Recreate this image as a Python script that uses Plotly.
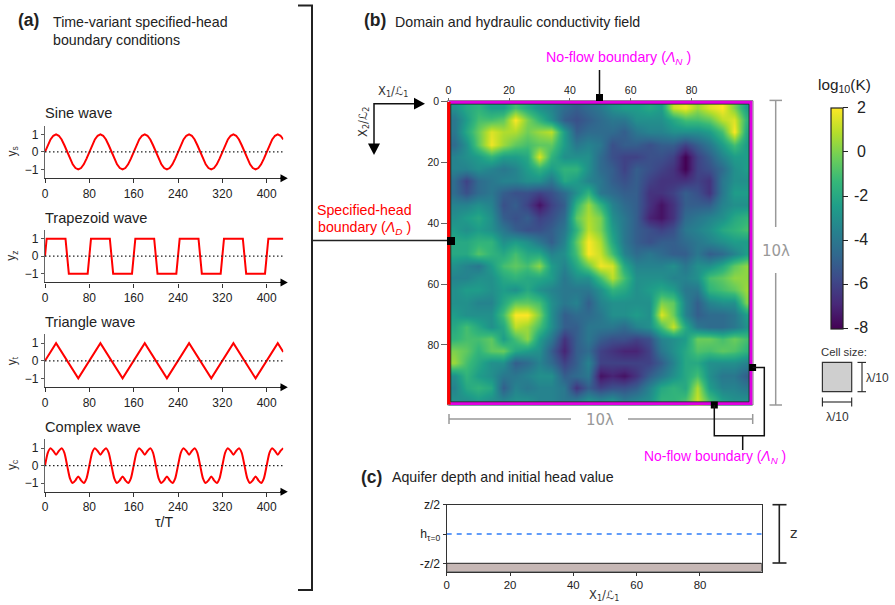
import plotly.graph_objects as go

# ---------- data ----------
sine_x = [0,5,10,15,20,25,30,35,40,45,50,55,60,65,70,75,80,85,90,95,100,105,110,115,120,125,130,135,140,145,150,155,160,165,170,175,180,185,190,195,200,205,210,215,220,225,230,235,240,245,250,255,260,265,270,275,280,285,290,295,300,305,310,315,320,325,330,335,340,345,350,355,360,365,370,375,380,385,390,395,400,405,410,415,420,425,430]
sine_y = [0,.38,.71,.92,1,.92,.71,.38,0,-.38,-.71,-.92,-1,-.92,-.71,-.38,
          0,.38,.71,.92,1,.92,.71,.38,0,-.38,-.71,-.92,-1,-.92,-.71,-.38,
          0,.38,.71,.92,1,.92,.71,.38,0,-.38,-.71,-.92,-1,-.92,-.71,-.38,
          0,.38,.71,.92,1,.92,.71,.38,0,-.38,-.71,-.92,-1,-.92,-.71,-.38,
          0,.38,.71,.92,1,.92,.71,.38,0,-.38,-.71,-.92,-1,-.92,-.71,-.38,
          0,.38,.71,.92,1,.92,.71]
trap_x = [0,3,37,43,77,83,117,123,157,163,197,203,237,243,277,283,317,323,357,363,397,403,430]
trap_y = [0,1,1,-1,-1,1,1,-1,-1,1,1,-1,-1,1,1,-1,-1,1,1,-1,-1,1,1]
tri_x = [0,20,60,100,140,180,220,260,300,340,380,420,430]
tri_y = [0,1,-1,1,-1,1,-1,1,-1,1,-1,1,.5]
comp_x = sine_x
comp_y = [0,.73,1,.84,.62,.84,1,.73,0,-.73,-1,-.84,-.62,-.84,-1,-.73,
          0,.73,1,.84,.62,.84,1,.73,0,-.73,-1,-.84,-.62,-.84,-1,-.73,
          0,.73,1,.84,.62,.84,1,.73,0,-.73,-1,-.84,-.62,-.84,-1,-.73,
          0,.73,1,.84,.62,.84,1,.73,0,-.73,-1,-.84,-.62,-.84,-1,-.73,
          0,.73,1,.84,.62,.84,1,.73,0,-.73,-1,-.84,-.62,-.84,-1,-.73,
          0,.73,1,.84,.62,.84,1]
wave_titles = ["Sine wave", "Trapezoid wave", "Triangle wave", "Complex wave"]
wave_ylabels = ["y<sub>s</sub>", "y<sub>z</sub>", "y<sub>t</sub>", "y<sub>c</sub>"]
time_ticks = [0, 80, 160, 240, 320, 400]
field_ticks = [0, 20, 40, 60, 80]
cbar_ticks = [-8, -6, -4, -2, 0, 2]
cbar_labels = ["-8", "-6", "-4", "-2", "0", "2"]
depth_ticks = [1, 0, -1]
depth_labels = ["z/2", "h<sub>τ=0</sub>", "-z/2"]
head_y = [0, 0]
span_x = [0, 99.5]
cell_centres = [2,6,10,14,18,22,26,30,34,38,42,46,50,54,58,62,66,70,74,78,82,86,90,94,98]
log_k = [
[-3,-2,-1.5,-2.5,-2.5,-1,-2,-3,-3.5,-4.5,-5,-4.5,-4,-3,-2.5,-2.5,-2,-2.5,1.2,1.8,.5,1.5,2,0,-2.5],
[-4,-2.5,-1,-1,-.5,2,0,-1.5,-3,-5,-5.5,-5,-4.5,-4,-4,-3,-3,-3,-2,-1,-1,-.5,1,1.5,-1.5],
[-4,-2,-.3,1.5,.8,.8,-.2,.5,1,-2.5,-5,-4.5,-4.5,-4.5,-5,-4,-3.5,-3.5,-3,-3,-3,-2.5,-1,2,-2],
[-4.5,-3,-.5,1.8,.5,-.5,-1,-.5,-.5,-2.5,-4,-3.5,-4,-5.5,-5,-5,-5.5,-5,-5,-6,-5,-4,-2.5,-1,-2.5],
[-3.5,-3,-2.5,-1.5,-2.5,-2.5,-2,1.5,-1.5,-3,-3,-3,-4.5,-5.5,-6,-6,-5.5,-5.5,-6,-8,-6,-5,-3.5,-2.5,-2.5],
[-3.5,-3.5,-3,-3.5,-4,-3.5,-2.5,-1.5,-2.5,-1.5,-1.5,-3,-4.5,-5,-6,-5,-5.5,-6,-6.5,-8,-6,-5.5,-4.5,-3,-2.5],
[-4.5,-6,-4.5,-4,-3.5,-3.5,-3,-3,-4,-2,-2.5,-3.5,-4,-5,-5.5,-5,-6,-6.5,-6.5,-6.5,-6,-6.5,-4,-3,-3],
[-4.5,-5.5,-4.5,-4,-5,-5.5,-5.5,-6,-5.5,-4.5,-3,-1.5,-4,-4.5,-5,-5,-6.5,-6.5,-6,-5,-5.5,-6.5,-4,-2.5,-2.5],
[-3.5,-3.5,-3,-3.5,-5.5,-5,-6,-7.5,-6,-5,-1.5,.5,-1.5,-3.5,-4.5,-5,-6.5,-7.5,-6.5,-5,-5,-5,-3.5,-3,-3],
[-3,-2.5,-2,-3,-5,-5.5,-5,-6,-5.5,-4.5,-.5,.8,0,-3,-4,-5,-7,-7.5,-6.5,-4.5,-4,-3.5,-3,-2,-1.5],
[-2.5,-3,-2.5,-3,-4,-5,-5.5,-5.5,-5,-4,-1.5,1,0,-2.5,-4,-5,-5.5,-6,-5.5,-4,-3.5,-3,-2,-1.5,-1],
[-2,-2,-1.5,-1.5,-3,-2.5,-3,-4,-5,-3.5,-.5,2,.8,-2,-4,-5,-5.5,-5,-5,-4.5,-4,-3.5,-3,-2.5,-2.5],
[-2,-2,-.7,-1.5,-2,-1,-2,-2,-3.5,-3,-1,2,1.2,-1,-3.5,-4.5,-4,-4.5,-5,-5,-4,-5,-4.5,-3.5,-2.5],
[-3,-3.5,-4,-2.5,-1,-.5,-1,.3,-2.5,-3.5,-2,-.3,1.8,1.4,-2,-3.5,-3.5,-3.5,-3,-4,-3,-3,-2,-.5,.3],
[-3.5,-3.5,-3,-3,-2,-1.5,-2,-2,-2.5,-4,-3,-3,-1,1,-1,-3,-3,-3,-3.5,-3.5,-3,-1,-.5,.3,.3],
[-3,-2.5,-2.5,-3,-2.5,-3,-2,-3,-3.5,-4,-4,-4,-3,-1.5,-2,-3,-2.5,-2,-2.5,-4,-4,-1.5,-1,-.5,.5],
[-3,-3,-3.5,-3.5,-2,-.5,-.5,-1,-3,-4,-3.5,-5,-3.5,-3,-3,-3,-3,0,-.5,-3.5,-5,-3.5,-3,-3,0],
[-2.5,-3,-3,-3,-1,2,2,0,-3,-5,-4.5,-4.5,-4,-3,-3,-2.5,-3,1.5,-.3,-3.5,-5,-4.5,-4.5,-4,-2.5],
[-2,-1,-2,-3,-2,1,.5,-1,-3,-5,-5,-4,-4,-4,-4.5,-3.5,-3,-1,1.2,-2,-4,-4.5,-4.5,-4,-3],
[-1.5,-1,-1,-.5,-2.5,-1,.3,-2.5,-4,-6.5,-5,-4,-5,-5.5,-5.5,-6,-5.5,-3.5,-3,-2.5,-.3,-.3,-1,-.3,-1],
[0,-.5,-1.5,-.5,-.3,-2,-2.5,-3,-5,-7,-5,-4.5,-6,-6.5,-7,-7,-6,-4,-3,-2,-.8,-1,-.5,-.8,-1.5],
[.5,-1,-2,-3,-3,-5,-4.5,-3.5,-4.5,-6,-5,-3.5,-6,-6,-6,-6,-6,-5,-3.5,-2,-2,-3,-3,-3,-3.5],
[-3,-1.5,-2.5,-3,-4,-4,-3.5,-3,-3,-5,-4.5,-4,-7.5,-7,-7.5,-6.5,-5,-4,-3,-2,-1,-3,-4,-4,-5],
[-3.5,-2,-1.5,-2,-5,-3.5,-4,-3.5,-3.5,-4,-6.5,-5,-6,-5.5,-5.5,-5,-3.5,-2,-1.5,-2,.8,-2.5,-3.5,-3.5,-4],
[-3,-3,-2.5,-3,-3.5,-3,-3,-3.5,-3.5,-4,-4,-3,-3.5,-3,-4,-3.5,-3,-1.5,-1.5,-1,1.2,-1,-2.5,-3,-3],
]

# ---------- page helpers ----------
W, H = 895, 605
FONT = "Liberation Sans"
def px(x): return x / W
def py(y): return 1 - y / H

fig = go.Figure()
shapes, notes = [], []

def text(x, y, s, size=14.2, color="#222", anchor="left", angle=0, bold=False, family=FONT):
    dx = -1 if anchor == "left" else 0
    notes.append(dict(xref="paper", yref="paper", x=px(x + dx), y=py(y), text=f"<b>{s}</b>" if bold else s,
                      showarrow=False, xanchor=anchor, yanchor="middle", textangle=angle, borderpad=0,
                      font=dict(family=family, size=size, color=color)))

def line(pts, color="#222", width=1.5, dash="solid"):
    d = "M" + " L".join(f"{px(a):.5f},{py(b):.5f}" for a, b in pts)
    shapes.append(dict(type="path", xref="paper", yref="paper", path=d,
                       line=dict(color=color, width=width, dash=dash), fillcolor="rgba(0,0,0,0)"))

def poly(pts, fill="#000", color=None, width=0):
    d = "M" + " L".join(f"{px(a):.5f},{py(b):.5f}" for a, b in pts) + " Z"
    shapes.append(dict(type="path", xref="paper", yref="paper", path=d, fillcolor=fill,
                       line=dict(color=color or fill, width=width)))

def square(cx, cy, h):
    poly([(cx-h, cy-h), (cx+h, cy-h), (cx+h, cy+h), (cx-h, cy+h)], "#000")

# ---------- panel (a) ----------
LAY = {}
wave_px = [(125.6, 178.2), (230, 282.4), (334.4, 387.2), (439.4, 491.8)]
title_py = [113, 217.5, 322, 427]
series = [(sine_x, sine_y), (trap_x, trap_y), (tri_x, tri_y), (comp_x, comp_y)]
for i, ((top, bot), (xs, ys)) in enumerate(zip(wave_px, series), start=1):
    ax = "" if i == 1 else str(i)
    LAY["xaxis" + ax] = dict(domain=[px(45), px(283.3)], range=[0, 430], anchor="y" + ax,
                             tickvals=time_ticks, ticks="outside", ticklen=4, tickwidth=1, tickcolor="#333",
                             showgrid=False, zeroline=False, showline=True, linecolor="#333", linewidth=1.2,
                             tickfont=dict(family=FONT, size=12, color="#222"))
    LAY["yaxis" + ax] = dict(domain=[py(bot), py(top)], range=[-1.5, 1.5], anchor="x" + ax,
                             tickvals=[-1, 0, 1], ticktext=["−1", "0", "1"], ticks="outside", ticklen=3,
                             tickwidth=1, tickcolor="#555", showgrid=False, zeroline=False, showline=True,
                             linecolor="#666", linewidth=1.2, tickfont=dict(family=FONT, size=12, color="#222"))
    fig.add_trace(go.Scatter(x=xs, y=ys, mode="lines",
                             line=dict(color="#ff0000", width=2, shape="spline" if i == 4 else "linear", smoothing=0.6),
                             xaxis="x" + ax, yaxis="y" + ax, showlegend=False, hoverinfo="skip"))
    shapes.append(dict(type="line", xref="x" + ax, yref="y" + ax, x0=0, x1=430, y0=0, y1=0,
                       line=dict(color="#222", width=1.2, dash="1.5px,2.5px"), layer="above"))
    poly([(280.5, bot-4), (287.8, bot), (280.5, bot+4)], "#000")
    line([(280, bot), (284, bot)], "#000", 1.2)
    text(45, title_py[i-1], wave_titles[i-1], 14.6, "#222")
    text(12.5, (top+bot)/2, wave_ylabels[i-1], 12, "#333", "center", -90)

text(18, 20, "(a)", 17.5, "#222", bold=True)
text(53, 22, "Time-variant specified-head")
text(53, 39.5, "boundary conditions")
text(164, 522, "τ/T", 14, "#222", "center")

# bracket
line([(298, 5.5), (312, 5.5), (312, 590), (298, 590)], "#222", 2)
line([(312, 240.5), (448, 240.5)], "#222", 1.5)

# ---------- panel (b) ----------
LAY["xaxis5"] = dict(domain=[px(448.3), px(752.3)], range=[0, 100], side="top", anchor="y5",
                     tickvals=field_ticks, ticks="outside", ticklen=3, tickcolor="#666",
                     showgrid=False, zeroline=False, tickfont=dict(family=FONT, size=10.5, color="#222"))
LAY["yaxis5"] = dict(domain=[py(405.7), py(101.7)], range=[100, 0], anchor="x5",
                     tickvals=field_ticks, ticks="outside", ticklen=6, tickcolor="#666",
                     showgrid=False, zeroline=False, tickfont=dict(family=FONT, size=10.5, color="#222"))
fig.add_trace(go.Heatmap(x=cell_centres, y=cell_centres, z=log_k, zmin=-8, zmax=2, colorscale="Viridis",
                         zsmooth="best", xaxis="x5", yaxis="y5", hoverinfo="skip",
                         colorbar=dict(x=px(831), xanchor="left", y=py(107.7), yanchor="top", len=221, lenmode="pixels",
                                       thickness=11.5, thicknessmode="pixels", xpad=0, ypad=0,
                                       tickvals=cbar_ticks, showticklabels=False, ticks="outside", ticklen=5,
                                       tickcolor="#222", outlinecolor="#222", outlinewidth=1.2)))
for v, lab in zip(cbar_ticks, cbar_labels):
    text(861, 107 + (2 - v) * 22.1, lab, 16, "#222", "center")
line([(447.5, 100.7), (753, 100.7), (753, 405), (447.5, 405), (447.5, 100.7)], "#777", 1)
line([(449, 102.4), (750.8, 102.4), (750.8, 403.4), (449, 403.4)], "#e000e0", 3.2)
line([(448.9, 102), (448.9, 404.5)], "#ff0000", 3.5)
line([(450.8, 104.2), (749, 104.2), (749, 401.8), (450.8, 401.8), (450.8, 104.2)], "#113322", 0.8)

text(364, 20, "(b)", 17.5, "#222", bold=True)
text(395, 22, "Domain and hydraulic conductivity field")
square(451, 241, 4)
square(599.5, 97.5, 3.5)
line([(599.5, 70), (599.5, 95)], "#111", 1.5)
text(618, 58, "No-flow boundary (<i>Λ<sub>N</sub></i> )", 14.2, "#ff00ff", "center")
text(364, 210, "Specified-head", 14.2, "#ff0000", "center")
text(364, 228, "boundary (<i>Λ<sub>D</sub></i> )", 14.2, "#ff0000", "center")

# orientation arrows
line([(414, 103.7), (374, 103.7), (374, 144)], "#111", 1.5)
poly([(414, 97.8), (425, 103.7), (414, 109.6)], "#000")
poly([(368, 143.5), (380, 143.5), (374, 155)], "#000")
text(393, 92, "X<sub>1</sub>/ℒ<sub>1</sub>", 11.5, "#333", "center", family="DejaVu Sans")
text(363, 122, "X<sub>2</sub>/ℒ<sub>2</sub>", 11.5, "#333", "center", -90, family="DejaVu Sans")

# scale bars
GR = "#999999"
line([(449, 419), (571, 419)], GR, 1.5)
line([(628, 419), (752.7, 419)], GR, 1.5)
line([(449, 414), (449, 424)], GR, 1.5)
line([(752.7, 414), (752.7, 424)], GR, 1.5)
text(599.5, 419.5, "10λ", 15, GR, "center", family="DejaVu Sans")
line([(775.7, 100.4), (775.7, 227)], GR, 1.5)
line([(775.7, 273), (775.7, 405)], GR, 1.5)
line([(769.5, 100.4), (782, 100.4)], GR, 1.5)
line([(769.5, 405), (782, 405)], GR, 1.5)
text(775.7, 250.7, "10λ", 15, GR, "center", family="DejaVu Sans")

# lower no-flow connector
square(714.3, 405, 3.5)
square(752.6, 367.5, 3.5)
line([(714.3, 405), (714.3, 435.7), (764.3, 435.7), (764.3, 367.5), (752.6, 367.5)], "#111", 1.5)
line([(742.7, 436), (742.7, 450)], "#111", 1.5)
text(714.5, 457, "No-flow boundary (<i>Λ<sub>N</sub></i> )", 13.9, "#ff00ff", "center")

# colour bar title and cell key
text(844.5, 85.5, "log<sub>10</sub>(K)", 15.3, "#222", "center")
text(844, 352.5, "Cell size:", 11.3, "#333", "center")
poly([(822.4, 362.4), (851.7, 362.4), (851.7, 391.7), (822.4, 391.7)], "#cfcfcf", "#333", 1.2)
line([(862, 362.4), (862, 391.7)], "#222", 1.1)
line([(857.5, 362.4), (866, 362.4)], "#222", 1.1)
line([(857.5, 391.7), (866, 391.7)], "#222", 1.1)
text(866, 377.5, "λ/10", 12, "#333")
line([(822.4, 402), (851.7, 402)], "#222", 1.1)
line([(822.4, 397.5), (822.4, 406.5)], "#222", 1.1)
line([(851.7, 397.5), (851.7, 406.5)], "#222", 1.1)
text(837, 417, "λ/10", 12, "#333", "center")

# ---------- panel (c) ----------
LAY["xaxis6"] = dict(domain=[px(446.7), px(761.7)], range=[0, 99.5], anchor="y6", tickvals=field_ticks,
                     ticks="outside", ticklen=3, tickcolor="#333", showgrid=False, zeroline=False,
                     showline=True, linecolor="#333", linewidth=1.2, mirror=True,
                     tickfont=dict(family=FONT, size=11.4, color="#222"))
LAY["yaxis6"] = dict(domain=[py(571.5), py(504.7)], range=[-1.28, 1], anchor="x6", tickvals=depth_ticks,
                     ticktext=depth_labels, ticks="outside", ticklen=3, tickcolor="#333", showgrid=False,
                     zeroline=False, showline=True, linecolor="#333", linewidth=1.2, mirror=True,
                     tickfont=dict(family=FONT, size=12.2, color="#222"))
fig.add_trace(go.Scatter(x=span_x, y=head_y, mode="lines", line=dict(color="#2f7cf6", width=1.6, dash="5px,5px"),
                         xaxis="x6", yaxis="y6", showlegend=False, hoverinfo="skip"))
shapes.append(dict(type="rect", xref="x6", yref="y6", x0=0, x1=99.5, y0=-1.28, y1=-1,
                   fillcolor="#c6b7b5", line=dict(color="#222", width=1)))
text(361, 476.5, "(c)", 17.5, "#222", bold=True)
text(392, 476.5, "Aquifer depth and initial head value")
text(604, 595, "X<sub>1</sub>/ℒ<sub>1</sub>", 11.5, "#333", "center", family="DejaVu Sans")
line([(779.3, 504.7), (779.3, 563)], "#222", 1.6)
line([(772.5, 504.7), (786.5, 504.7)], "#222", 1.6)
line([(772.5, 563), (786.5, 563)], "#222", 1.6)
text(793, 533, "z", 14, "#333", "center", family="DejaVu Sans")

fig.update_layout(width=W, height=H, margin=dict(l=0, r=0, t=0, b=0, autoexpand=False), paper_bgcolor="white",
                  plot_bgcolor="white", showlegend=False, shapes=shapes, annotations=notes, **LAY)
fig.write_html("out.html", config={"displayModeBar": False}, post_script="document.body.style.margin='0';")
